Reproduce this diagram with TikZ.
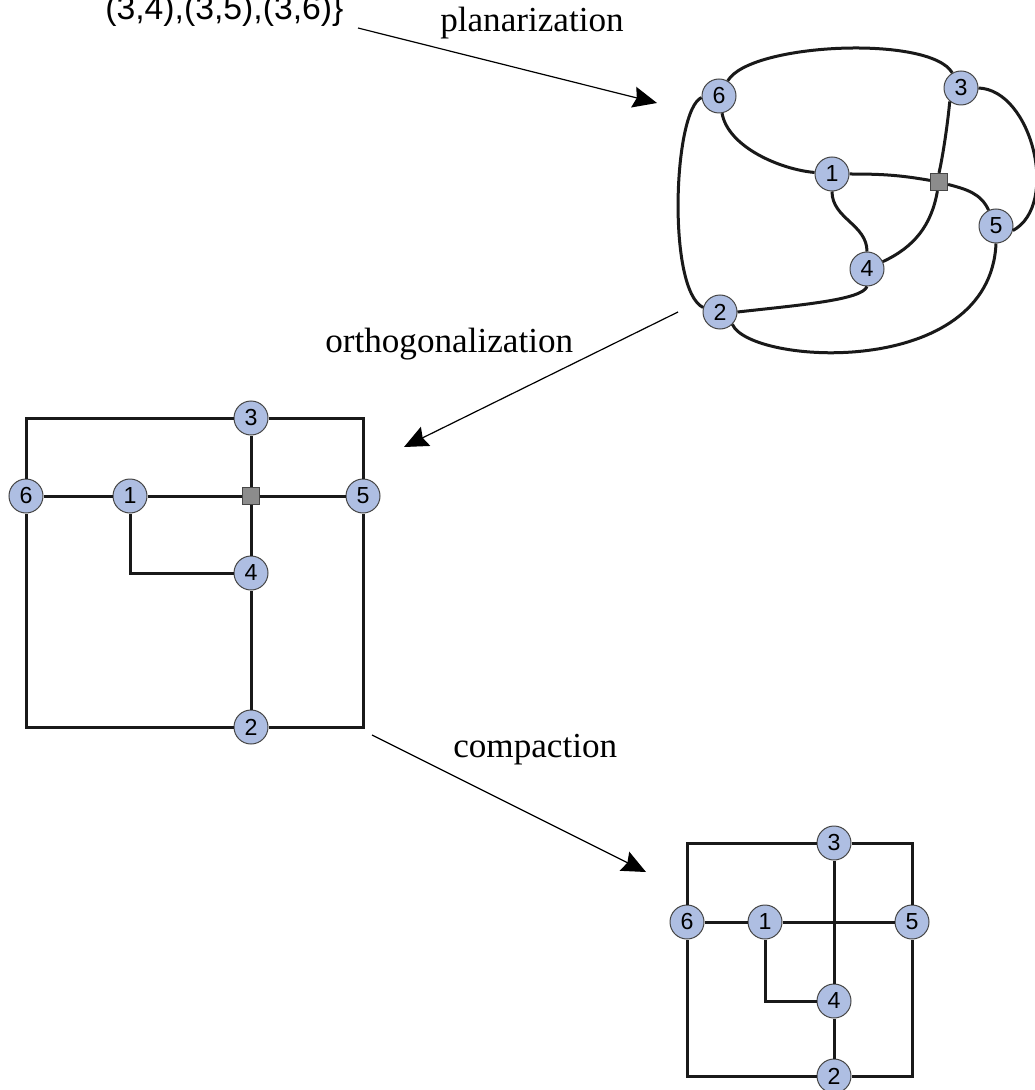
\documentclass[tikz,border=0pt]{standalone}
\usepackage{fontspec}
\setmainfont{Liberation Serif}
\newfontfamily\numfont{Liberation Sans}
\usetikzlibrary{arrows.meta}

\definecolor{vertexblue}{RGB}{174,190,226}
\definecolor{dummygray}{RGB}{140,140,140}
\definecolor{rimgray}{RGB}{70,70,70}

\begin{document}
\begin{tikzpicture}[
    x=0.25mm, y=0.25mm,
    vertex/.style={circle, draw=rimgray, line width=0.25mm, fill=vertexblue, minimum size=8.5mm, inner sep=0pt, font=\numfont\fontsize{16.5}{18}\selectfont},
    dummy/.style={rectangle, draw=rimgray, line width=0.25mm, fill=dummygray, minimum size=4.3mm, inner sep=0pt},
    link/.style={line width=0.75mm, black!90},
    stage/.style={-{Stealth[length=6mm, width=5.3mm, inset=0.8mm]}, line width=0.3mm},
    steplabel/.style={anchor=base west, inner sep=0pt, font=\fontsize{25}{30}\selectfont}
]
\useasboundingbox (0,0) rectangle (1034,-1090);

% Edge list (last line) and stage labels
\node[anchor=base west, inner sep=0pt, font=\numfont\fontsize{24}{28}\selectfont] (edgelist) at (105,-20) {(3,4),(3,5),(3,6)\}};
\node[steplabel] (lplan) at (440,-32) {planarization};
\node[steplabel] (lortho) at (325,-352) {orthogonalization};
\node[steplabel] (lcomp) at (453,-757) {compaction};

% Planarized graph
\node[vertex] (p6) at (719,-96) {6};
\node[vertex] (p3) at (961,-88) {3};
\node[vertex] (p1) at (832,-174) {1};
\node[dummy]  (pd) at (939,-182) {};
\node[vertex] (p5) at (996,-226) {5};
\node[vertex] (p4) at (867,-269) {4};
\node[vertex] (p2) at (720,-312) {2};

\draw[link] (p6) to[out=60, in=120, looseness=0.5] (p3);
\draw[link] (p6.185) .. controls (673,-110) and (667,-290) .. (p2.165);
\draw[link] (p6) to[out=-80, in=175, looseness=0.8] (p1);
\draw[link] (p1) to[out=0, in=170] (pd);
\draw[link] (pd) to[out=-15, in=115] (p5);
\draw[link] (p3.230) .. controls (947,-130) and (942,-160) .. (pd.north);
\draw[link] (pd) to[out=-100, in=25] (p4);
\draw[link] (p3.east) .. controls (1032,-90) and (1060,-205) .. (p5.-15);
\draw[link] (p1.south) to[out=-90, in=90] (p4.north);
\draw[link] (p4.south) .. controls (862,-300) and (800,-305) .. (p2.east);
\draw[link] (p2.-45) .. controls (750,-365) and (990,-380) .. (p5.south);

% Orthogonal drawing
\node[vertex] (o3) at (251,-418) {3};
\node[vertex] (o6) at (26,-496) {6};
\node[vertex] (o1) at (130,-496) {1};
\node[dummy]  (od) at (251,-496) {};
\node[vertex] (o5) at (363,-496) {5};
\node[vertex] (o4) at (251,-573) {4};
\node[vertex] (o2) at (251,-727) {2};

\draw[link] (o6) |- (o3);
\draw[link] (o3) -| (o5);
\draw[link] (o5) |- (o2);
\draw[link] (o2) -| (o6);
\draw[link] (o6) -- (o1);
\draw[link] (o1) -- (od);
\draw[link] (od) -- (o5);
\draw[link] (o3) -- (od);
\draw[link] (od) -- (o4);
\draw[link] (o1) |- (o4);
\draw[link] (o4) -- (o2);

% Compacted drawing
\node[vertex] (c3) at (834,-843) {3};
\node[vertex] (c6) at (687,-922) {6};
\node[vertex] (c1) at (765,-922) {1};
\node[vertex] (c5) at (912,-922) {5};
\node[vertex] (c4) at (834,-1001) {4};
\node[vertex] (c2) at (834,-1076) {2};

\draw[link] (c6) |- (c3);
\draw[link] (c3) -| (c5);
\draw[link] (c5) |- (c2);
\draw[link] (c2) -| (c6);
\draw[link] (c6) -- (c1);
\draw[link] (c1) -- (c5);
\draw[link] (c3) -- (c4);
\draw[link] (c1) |- (c4);
\draw[link] (c4) -- (c2);

% Stage arrows
\coordinate (planfrom) at (358,-28);
\coordinate (planto) at (657,-103);
\coordinate (orthofrom) at (678,-312);
\coordinate (orthoto) at (404,-447);
\coordinate (compfrom) at (372,-735);
\coordinate (compto) at (646,-872);
\draw[stage] (planfrom) -- (planto);
\draw[stage] (orthofrom) -- (orthoto);
\draw[stage] (compfrom) -- (compto);

\end{tikzpicture}
\end{document}
